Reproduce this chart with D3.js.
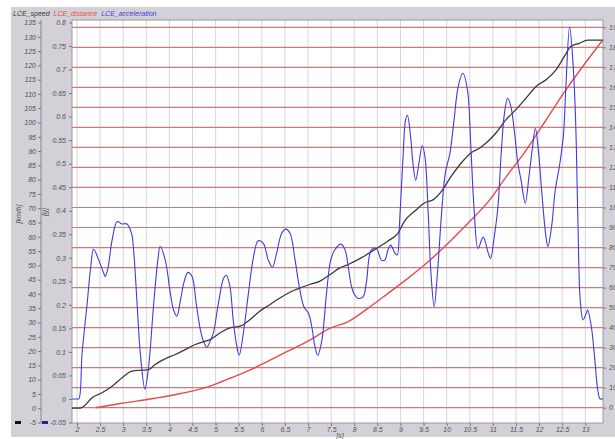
<!DOCTYPE html>
<html>
<head>
<meta charset="utf-8">
<script src="https://cdn.jsdelivr.net/npm/d3@7"></script>
<style>
  html, body { margin: 0; padding: 0; background: #ffffff; }
  svg { display: block; }
  text { font-family: "Liberation Sans", Arial, sans-serif; }
</style>
</head>
<body>
<svg id="chart" width="615" height="439"></svg>
<script>
// ---- data ----
const seriesNames = ["LCE_speed", "LCE_distance", "LCE_acceleration"];
const seriesColors = ["#3a3a3a", "#e84a4a", "#3c3ce0"];

const speedT = [1.89, 2.06, 2.15, 2.32, 2.54, 2.76, 2.97, 3.19, 3.41, 3.55, 3.69, 3.91, 4.13, 4.34, 4.56, 4.78, 4.88, 5.10, 5.31, 5.53, 5.74, 5.96, 6.18, 6.39, 6.61, 6.83, 7.04, 7.26, 7.48, 7.69, 7.87, 8.15, 8.44, 8.73, 8.95, 9.09, 9.31, 9.53, 9.71, 9.89, 10.10, 10.32, 10.53, 10.72, 10.90, 11.07, 11.29, 11.50, 11.72, 11.94, 12.15, 12.37, 12.55, 12.69, 12.87, 13.05, 13.23, 13.38];
const speedV = [0, 0, 0.7, 3.6, 5.4, 7.7, 10.6, 13.0, 13.3, 13.5, 15.3, 17.3, 18.8, 20.5, 22.3, 23.5, 24.0, 26.4, 28.1, 28.7, 31.0, 34.0, 36.3, 38.6, 40.6, 42.1, 43.3, 44.5, 46.8, 49.1, 50.3, 52.6, 55.5, 58.5, 61.4, 65.5, 69.0, 71.9, 73.0, 76.0, 81.2, 85.9, 89.4, 91.1, 93.5, 96.4, 101.1, 104.5, 108.6, 112.7, 115.0, 118.5, 123.2, 126.7, 127.7, 128.8, 128.8, 128.8];

const distT = [2.40, 2.97, 3.69, 4.27, 4.88, 5.31, 5.74, 6.18, 6.61, 7.04, 7.48, 7.87, 8.30, 8.73, 9.16, 9.60, 10.03, 10.46, 10.90, 11.29, 11.72, 12.15, 12.58, 13.02, 13.38];
const distV = [0, 2.2, 4.7, 7.2, 10.8, 14.7, 18.8, 23.8, 28.8, 33.8, 39.7, 43.0, 49.7, 57.1, 64.6, 72.9, 82.1, 92.1, 102.9, 115.4, 128.7, 143.7, 158.7, 172.8, 183.7];

const accT = [1.89, 2.00, 2.04, 2.11, 2.22, 2.29, 2.36, 2.47, 2.58, 2.61, 2.67, 2.76, 2.87, 2.97, 3.08, 3.18, 3.23, 3.30, 3.37, 3.47, 3.55, 3.66, 3.75, 3.80, 3.91, 4.02, 4.09, 4.16, 4.24, 4.31, 4.40, 4.49, 4.58, 4.67, 4.74, 4.81, 4.89, 4.95, 5.06, 5.17, 5.23, 5.31, 5.38, 5.46, 5.51, 5.60, 5.71, 5.82, 5.92, 6.03, 6.14, 6.23, 6.32, 6.43, 6.52, 6.61, 6.72, 6.81, 6.91, 7.01, 7.08, 7.15, 7.21, 7.30, 7.40, 7.49, 7.58, 7.71, 7.80, 7.87, 7.94, 8.01, 8.08, 8.19, 8.26, 8.37, 8.48, 8.59, 8.66, 8.73, 8.79, 8.88, 8.93, 8.98, 9.06, 9.11, 9.15, 9.22, 9.27, 9.33, 9.40, 9.47, 9.53, 9.60, 9.66, 9.73, 9.80, 9.89, 9.97, 10.07, 10.16, 10.25, 10.35, 10.45, 10.52, 10.59, 10.68, 10.79, 10.90, 10.95, 11.03, 11.11, 11.18, 11.25, 11.32, 11.39, 11.47, 11.54, 11.61, 11.70, 11.78, 11.85, 11.92, 11.99, 12.06, 12.14, 12.19, 12.27, 12.35, 12.45, 12.53, 12.58, 12.66, 12.73, 12.79, 12.84, 12.89, 12.95, 13.02, 13.05, 13.13, 13.20, 13.27, 13.32, 13.38];
const accV = [0, 0, 0, 0.097, 0.203, 0.274, 0.318, 0.295, 0.267, 0.260, 0.278, 0.338, 0.377, 0.372, 0.372, 0.352, 0.310, 0.203, 0.097, 0.021, 0.069, 0.203, 0.295, 0.324, 0.295, 0.225, 0.189, 0.176, 0.210, 0.246, 0.269, 0.260, 0.203, 0.147, 0.122, 0.110, 0.125, 0.140, 0.203, 0.256, 0.263, 0.239, 0.168, 0.111, 0.093, 0.140, 0.225, 0.302, 0.336, 0.331, 0.295, 0.280, 0.310, 0.352, 0.361, 0.352, 0.295, 0.239, 0.196, 0.182, 0.154, 0.111, 0.093, 0.125, 0.225, 0.295, 0.317, 0.329, 0.317, 0.281, 0.239, 0.221, 0.214, 0.217, 0.246, 0.317, 0.320, 0.295, 0.295, 0.317, 0.327, 0.310, 0.306, 0.373, 0.522, 0.593, 0.603, 0.557, 0.501, 0.465, 0.501, 0.538, 0.515, 0.395, 0.267, 0.196, 0.267, 0.395, 0.480, 0.522, 0.593, 0.664, 0.692, 0.657, 0.543, 0.409, 0.320, 0.344, 0.310, 0.299, 0.345, 0.409, 0.522, 0.607, 0.639, 0.621, 0.565, 0.501, 0.465, 0.416, 0.472, 0.529, 0.575, 0.522, 0.437, 0.352, 0.324, 0.366, 0.444, 0.501, 0.565, 0.664, 0.791, 0.720, 0.593, 0.380, 0.210, 0.168, 0.182, 0.189, 0.154, 0.090, 0.019, 0.0, 0.001];

const xTicks = [2, 2.5, 3, 3.5, 4, 4.5, 5, 5.5, 6, 6.5, 7, 7.5, 8, 8.5, 9, 9.5, 10, 10.5, 11, 11.5, 12, 12.5, 13];
const speedTicks = [-5, 0, 5, 10, 15, 20, 25, 30, 35, 40, 45, 50, 55, 60, 65, 70, 75, 80, 85, 90, 95, 100, 105, 110, 115, 120, 125, 130, 135];
const accTicks = [-0.05, 0, 0.05, 0.1, 0.15, 0.2, 0.25, 0.3, 0.35, 0.4, 0.45, 0.5, 0.55, 0.6, 0.65, 0.7, 0.75, 0.8];
const distTicks = [0, 10, 20, 30, 40, 50, 60, 70, 80, 90, 100, 110, 120, 130, 140, 150, 160, 170, 180, 190];

// ---- layout ----
const svg = d3.select("#chart");
const plot = { left: 72, right: 603, top: 20, bottom: 423 };

const x = d3.scaleLinear().domain([2, 13]).range([77, 585.3]);
const ySpeed = d3.scaleLinear().domain([-5, 135]).range([422.5, 22.5]);
const yAcc = d3.scaleLinear().domain([-0.05, 0.8]).range([422.5, 22.5]);
const yDist = d3.scaleLinear().domain([0, 190]).range([407.7, 27.3]);

// gray panel
svg.append("rect").attr("x", 11).attr("y", 7).attr("width", 604).attr("height", 430).attr("fill", "#d3d0d7");
// plot area
svg.append("rect").attr("x", plot.left).attr("y", plot.top)
  .attr("width", plot.right - plot.left).attr("height", plot.bottom - plot.top)
  .attr("fill", "#ffffff");

// vertical grid
svg.append("g").selectAll("line").data(xTicks).join("line")
  .attr("x1", d => x(d)).attr("x2", d => x(d))
  .attr("y1", plot.top).attr("y2", plot.bottom)
  .attr("stroke", "#d6d6dc").attr("stroke-width", 1);

// horizontal red grid (distance axis)
svg.append("g").selectAll("line").data(distTicks).join("line")
  .attr("x1", plot.left).attr("x2", plot.right)
  .attr("y1", d => yDist(d)).attr("y2", d => yDist(d))
  .attr("stroke", "#cc7a7a").attr("stroke-width", 1.2);

// plot border
svg.append("rect").attr("x", plot.left).attr("y", plot.top)
  .attr("width", plot.right - plot.left).attr("height", plot.bottom - plot.top)
  .attr("fill", "none").attr("stroke", "#9a98a0").attr("stroke-width", 1);

function styleAxis(g) {
  g.selectAll("text").attr("fill", "#505050").style("font-size", "7px").style("font-style", "italic")
   .attr("font-family", "Liberation Sans, Arial, sans-serif");
  g.selectAll("line").attr("stroke", "#777");
  g.select(".domain").attr("stroke", "#8a8890");
}

// speed axis
const gSpeed = svg.append("g").attr("transform", "translate(41,0)")
  .call(d3.axisLeft(ySpeed).tickValues(speedTicks).tickSize(3).tickSizeOuter(0).tickPadding(2).tickFormat(d => String(d)));
gSpeed.select(".domain").attr("d", `M0,${plot.top}V${plot.bottom}`);
styleAxis(gSpeed);

// acceleration axis
const gAcc = svg.append("g").attr("transform", `translate(${plot.left},0)`)
  .call(d3.axisLeft(yAcc).tickValues(accTicks).tickSize(3).tickSizeOuter(0).tickPadding(3).tickFormat(d => String(+d.toFixed(2))));
gAcc.select(".domain").remove();
styleAxis(gAcc);

// distance axis (right)
const gDist = svg.append("g").attr("transform", `translate(${plot.right},0)`)
  .call(d3.axisRight(yDist).tickValues(distTicks).tickSize(3).tickSizeOuter(0).tickPadding(3).tickFormat(d => String(d)));
gDist.select(".domain").remove();
styleAxis(gDist);

// x axis
const gX = svg.append("g").attr("transform", `translate(0,${plot.bottom})`)
  .call(d3.axisBottom(x).tickValues(xTicks).tickSize(3).tickSizeOuter(0).tickPadding(1).tickFormat(d => String(d)));
gX.select(".domain").remove();
styleAxis(gX);

// axis titles
const titleStyle = sel => sel.attr("fill", "#505050").style("font-size", "7px").style("font-style", "italic");
svg.append("text").attr("transform", "translate(21,214) rotate(-90)").attr("text-anchor", "middle").text("[km/h]").call(titleStyle);
svg.append("text").attr("transform", "translate(47,212) rotate(-90)").attr("text-anchor", "middle").text("[g]").call(titleStyle);
svg.append("text").attr("x", 340).attr("y", 438).attr("text-anchor", "middle").text("[s]").call(titleStyle);

// axis markers
svg.append("rect").attr("x", 15).attr("y", 421).attr("width", 6).attr("height", 3).attr("fill", "#111");
svg.append("rect").attr("x", 42).attr("y", 421).attr("width", 6).attr("height", 3).attr("fill", "#2020a0");

// legend
const legend = svg.append("g").attr("transform", "translate(13,16)");
let lx = 0;
seriesNames.forEach((name, i) => {
  const t = legend.append("text").attr("x", lx).attr("y", 0).text(name)
    .attr("fill", seriesColors[i]).style("font-size", "7px").style("font-style", "italic");
  lx += t.node().getComputedTextLength() + 4;
});

// lines
const clip = svg.append("clipPath").attr("id", "clip").append("rect")
  .attr("x", plot.left).attr("y", plot.top).attr("width", plot.right - plot.left).attr("height", plot.bottom - plot.top);
const lines = svg.append("g").attr("clip-path", "url(#clip)");

const speedData = speedT.map((t, i) => [t, speedV[i]]);
const distData = distT.map((t, i) => [t, distV[i]]);
const accData = accT.map((t, i) => [t, accV[i]]);

lines.append("path").datum(distData)
  .attr("d", d3.line().x(d => x(d[0])).y(d => yDist(d[1])).curve(d3.curveMonotoneX))
  .attr("fill", "none").attr("stroke", seriesColors[1]).attr("stroke-width", 1.4);
lines.append("path").datum(speedData)
  .attr("d", d3.line().x(d => x(d[0])).y(d => ySpeed(d[1])).curve(d3.curveMonotoneX))
  .attr("fill", "none").attr("stroke", seriesColors[0]).attr("stroke-width", 1.3);
lines.append("path").datum(accData)
  .attr("d", d3.line().x(d => x(d[0])).y(d => yAcc(d[1])).curve(d3.curveCatmullRom))
  .attr("fill", "none").attr("stroke", seriesColors[2]).attr("stroke-width", 1.1);
</script>
</body>
</html>
